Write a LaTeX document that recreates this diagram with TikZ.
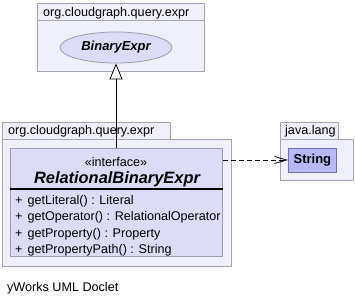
\documentclass[tikz,border=0pt]{standalone}
\usepackage{fontspec}
\setmainfont{Liberation Sans}
\usetikzlibrary{shapes.geometric,arrows.meta}
\definecolor{pkgfill}{HTML}{F0F0FC}
\definecolor{pkgline}{HTML}{A4A4B4}
\definecolor{clsfill}{HTML}{DCDCF8}
\definecolor{clsline}{HTML}{9C9CB0}
\definecolor{extfill}{HTML}{B8B8F8}
\definecolor{extline}{HTML}{7070B8}
\newcommand{\txtsize}{\fontsize{12.6bp}{15bp}\selectfont}
\tikzset{
  pkgpart/.style={draw=pkgline, fill=pkgfill, line width=0.8bp, inner sep=0pt, anchor=north west},
  clsbox/.style={draw=clsline, fill=clsfill, line width=0.8bp, inner sep=0pt, anchor=north west},
  extbox/.style={draw=extline, fill=extfill, line width=0.8bp, inner sep=0pt, anchor=north west},
  lbl/.style={inner sep=0pt, anchor=base west, font=\txtsize},
  member/.style={inner sep=0pt, anchor=base west, font=\txtsize},
  inherit/.style={-{Triangle[open, fill=white, length=16bp, width=13bp]}, line width=0.8bp},
  depend/.style={-{Straight Barb[length=12bp, width=7bp]}, dashed, dash pattern=on 5bp off 3bp, line width=0.8bp},
}
\begin{document}
\begin{tikzpicture}[x=1bp, y=-1bp]
  \useasboundingbox (0,0) rectangle (355,303);

  % package holding the parent interface
  \node[pkgpart, minimum width=167bp, minimum height=17bp] (tabA) at (37,3) {};
  \node[pkgpart, minimum width=167bp, minimum height=51bp] (bodyA) at (37,20) {};
  \node[lbl] (nameA) at (43,16) {org.cloudgraph.query.expr};
  \node[ellipse, draw=clsline, fill=clsfill, line width=0.8bp, minimum width=112bp, minimum height=31bp, inner sep=0pt,
        font=\fontsize{13bp}{15bp}\selectfont\bfseries\itshape] (binary) at (116,47.5) {BinaryExpr};

  % package holding the relational interface
  \node[pkgpart, minimum width=168bp, minimum height=17bp] (tabB) at (2,122) {};
  \node[pkgpart, minimum width=229bp, minimum height=127bp] (bodyB) at (2,139) {};
  \node[lbl] (nameB) at (8,134) {org.cloudgraph.query.expr};
  \node[clsbox, minimum width=212bp, minimum height=108bp] (rel) at (10,148) {};
  \node[inner sep=0pt, anchor=base, font=\txtsize] (stereo) at (116,166) {«interface»};
  \node[inner sep=0pt, anchor=base, font=\fontsize{16.4bp}{18bp}\selectfont\bfseries\itshape] (relname) at (117,183) {RelationalBinaryExpr};
  \draw[line width=2bp] (rel.west |- 0,189) coordinate (sepL) -- (rel.east |- 0,189) coordinate (sepR);
  \node[member] (m1) at (15,204) {+\hspace{5bp}getLiteral() : Literal};
  \node[member] (m2) at (15,220.5) {+\hspace{5bp}getOperator() : RelationalOperator};
  \node[member] (m3) at (15,237) {+\hspace{5bp}getProperty() : Property};
  \node[member] (m4) at (15,253) {+\hspace{5bp}getPropertyPath() : String};

  % java.lang package
  \node[pkgpart, minimum width=58bp, minimum height=17bp] (tabC) at (280,122) {};
  \node[pkgpart, minimum width=73bp, minimum height=41bp] (bodyC) at (280,139) {};
  \node[lbl] (nameC) at (285,134) {java.lang};
  \node[extbox, minimum width=48bp, minimum height=24bp] (string) at (288,148) {};
  \node[inner sep=0pt, font=\fontsize{13bp}{15bp}\selectfont\bfseries] (stringlbl) at (string.center) {String};

  % relations
  \coordinate (depfrom) at (rel.east |- 0,160);
  \coordinate (depto) at (string.west |- 0,160);
  \draw[inherit] (rel.north -| binary.south) -- (binary.south);
  \draw[depend] (depfrom) -- (depto);

  \node[lbl] (footer) at (7,291) {yWorks UML Doclet};
\end{tikzpicture}
\end{document}
